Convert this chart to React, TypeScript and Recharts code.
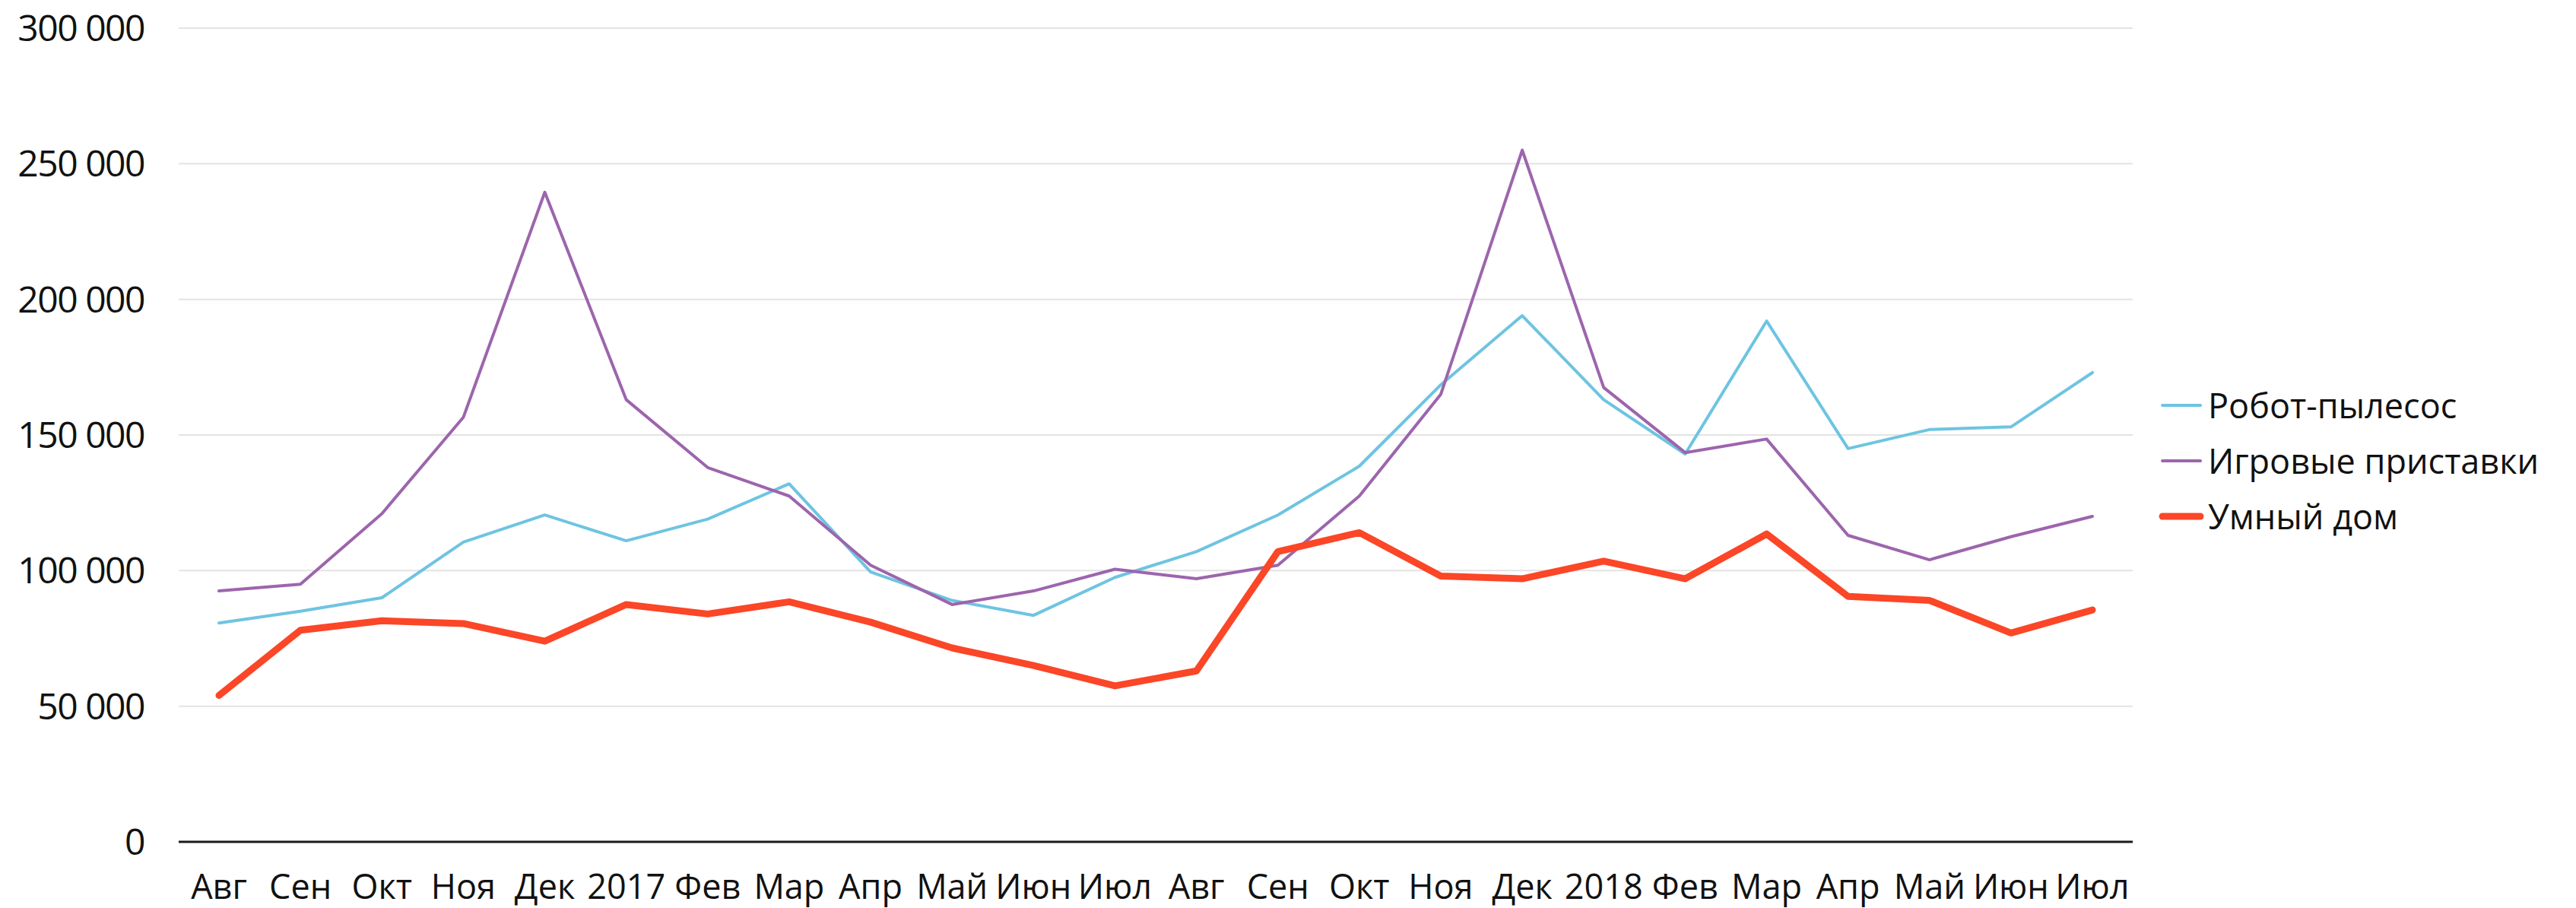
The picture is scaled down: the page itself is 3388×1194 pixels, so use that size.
import React from 'react'
import { CartesianGrid, Legend, Line, LineChart, XAxis, YAxis } from 'recharts'

const months = ['Авг', 'Сен', 'Окт', 'Ноя', 'Дек', '2017', 'Фев', 'Мар', 'Апр', 'Май', 'Июн', 'Июл', 'Авг', 'Сен', 'Окт', 'Ноя', 'Дек', '2018', 'Фев', 'Мар', 'Апр', 'Май', 'Июн', 'Июл']
const robotVacuum = [80700, 85000, 90000, 110500, 120500, 111000, 119000, 132000, 99500, 89000, 83500, 97500, 107000, 120500, 138500, 168500, 194000, 163000, 143000, 192000, 145000, 152000, 153000, 173000]
const gameConsoles = [92500, 95000, 121000, 156500, 239500, 163000, 138000, 127500, 102000, 87500, 92500, 100500, 97000, 102000, 127500, 165000, 255000, 167500, 143500, 148500, 113000, 104000, 112500, 120000]
const smartHome = [54000, 78000, 81500, 80500, 74000, 87500, 84000, 88500, 81000, 71500, 65000, 57500, 63000, 107000, 114000, 98000, 97000, 103500, 97000, 113500, 90500, 89000, 77000, 85500]
const yTicks = [0, 50000, 100000, 150000, 200000, 250000, 300000]

const series = [
  { key: 'robot', name: 'Робот-пылесос', color: '#6ec4e1', width: 4 },
  { key: 'consoles', name: 'Игровые приставки', color: '#9d65ad', width: 4 },
  { key: 'smart', name: 'Умный дом', color: '#fb4627', width: 9 },
]

const data = months.map((month, i) => ({
  month,
  robot: robotVacuum[i],
  consoles: gameConsoles[i],
  smart: smartHome[i],
}))

const FONT = '"Open Sans", sans-serif'

const fmt = (v: number) => String(v).replace(/\B(?=(\d{3})+(?!\d))/g, ' ')

function renderLegend() {
  return (
    <div style={{ fontFamily: FONT }}>
      {series.map((s) => (
        <div key={s.key} style={{ display: 'flex', alignItems: 'center', height: 73 }}>
          <svg width={62} height={20} style={{ display: 'block' }}>
            <line x1={6} y1={10} x2={56} y2={10} stroke={s.color} strokeWidth={s.width} strokeLinecap="round" />
          </svg>
          <span style={{ fontSize: 45, color: '#111', marginLeft: 4, whiteSpace: 'nowrap' }}>{s.name}</span>
        </div>
      ))}
    </div>
  )
}

export default function App() {
  return (
    <div style={{ position: 'absolute', left: 0, top: 0, width: 3388, height: 1194, background: '#fff' }}>
      <LineChart width={3388} height={1194} data={data} margin={{ top: 37, right: 583, bottom: 27, left: 0 }}>
        <CartesianGrid vertical={false} stroke="#e3e3e3" strokeWidth={2} />
        <XAxis
          dataKey="month"
          interval={0}
          height={60}
          tickLine={false}
          tickMargin={37}
          padding={{ left: 53, right: 53 }}
          axisLine={{ stroke: '#1a1a1a', strokeWidth: 3 }}
          tick={{ fill: '#111', fontSize: 45, fontFamily: FONT }}
        />
        <YAxis
          width={235}
          domain={[0, 300000]}
          ticks={yTicks}
          tickFormatter={fmt}
          axisLine={false}
          tickLine={false}
          tickMargin={39}
          tick={{ fill: '#111', fontSize: 48, fontFamily: FONT, letterSpacing: -1.5 }}
        />
        <Legend
          layout="horizontal"
          align="center"
          verticalAlign="middle"
          content={renderLegend}
          wrapperStyle={{ left: 2838, top: 496, width: 540, height: 230 }}
        />
        {series.map((s) => (
          <Line
            key={s.key}
            type="linear"
            dataKey={s.key}
            name={s.name}
            stroke={s.color}
            strokeWidth={s.width}
            strokeLinecap="round"
            strokeLinejoin="round"
            dot={false}
            activeDot={false}
            isAnimationActive={false}
          />
        ))}
      </LineChart>
    </div>
  )
}
